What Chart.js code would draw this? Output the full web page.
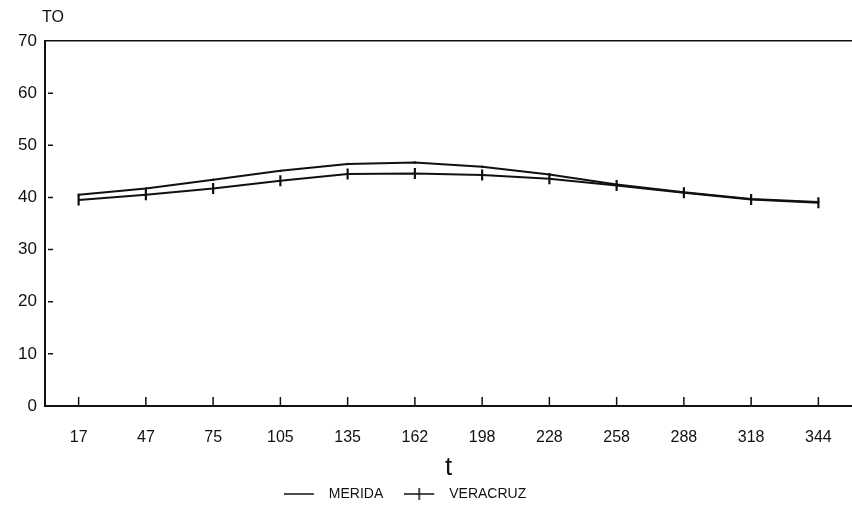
<!DOCTYPE html>
<html>
<head>
<meta charset="utf-8">
<script src="https://cdn.jsdelivr.net/npm/chart.js@4.4.1/dist/chart.umd.min.js"></script>
<style>
  html, body { margin: 0; padding: 0; background: #fff; }
  #wrap { width: 852px; height: 505px; }
</style>
</head>
<body>
<div id="wrap"><canvas id="myChart"></canvas></div>
<script>
// day of the year (x categories)
const days = ['17', '47', '75', '105', '135', '162', '198', '228', '258', '288', '318', '344'];
// TO values
const merida = [40.5, 41.7, 43.4, 45.1, 46.4, 46.7, 45.9, 44.4, 42.5, 41.0, 39.7, 39.1];
const veracruz = [39.5, 40.5, 41.7, 43.2, 44.5, 44.6, 44.3, 43.6, 42.3, 40.9, 39.6, 39.0];
const yTicks = [0, 10, 20, 30, 40, 50, 60, 70];

const ink = '#111';
const font = '"Liberation Sans", Arial, sans-serif';

// small legend samples: plain line and line with a tick
function sample(withTick) {
    const c = document.createElement('canvas');
    c.width = 38; c.height = 14;
    const g = c.getContext('2d');
    g.strokeStyle = ink; g.lineWidth = 1.5;
    g.beginPath();
    g.moveTo(0, 7); g.lineTo(30, 7);
    if (withTick) { g.moveTo(15, 1); g.lineTo(15, 13); }
    g.stroke();
    return c;
}
const samples = [sample(false), sample(true)];
// spacing after each legend text (keeps the legend a bit left of centre, like the original)
const legendGap = ['\u2002\u2002\u2002', '\u2002\u2002\u2002\u2002\u2002\u2002'];

// inward tick marks + the "TO" label
const insideTicks = {
    id: 'insideTicks',
    afterLayout(chart) {
        // nudge the legend down a little
        chart.legend.top += 6;
        chart.legend.bottom += 6;
    },
    afterDraw(chart) {
        const ctx = chart.ctx;
        const a = chart.chartArea;
        const x = chart.scales.x, y = chart.scales.y;
        ctx.save();
        ctx.strokeStyle = ink;
        ctx.lineWidth = 1.5;
        ctx.beginPath();
        yTicks.forEach(v => {
            if (v === 0 || v === 70) return;
            const py = y.getPixelForValue(v);
            ctx.moveTo(a.left + 3, py);
            ctx.lineTo(a.left + 8, py);
        });
        days.forEach((d, i) => {
            const px = x.getPixelForValue(i);
            ctx.moveTo(px, a.bottom);
            ctx.lineTo(px, a.bottom - 9);
        });
        ctx.stroke();
        ctx.fillStyle = ink;
        ctx.font = '16px ' + font;
        ctx.textAlign = 'left';
        ctx.textBaseline = 'bottom';
        ctx.fillText('TO', a.left - 3, a.top - 15);
        ctx.restore();
    }
};

const ctx = document.getElementById('myChart').getContext('2d');
const myChart = new Chart(ctx, {
    type: 'line',
    data: {
        labels: days,
        datasets: [{
            label: 'MERIDA',
            data: merida,
            borderColor: ink,
            backgroundColor: ink,
            borderWidth: 2,
            tension: 0,
            pointRadius: 1.2,
            pointStyle: 'circle',
            pointBorderWidth: 0
        }, {
            label: 'VERACRUZ',
            data: veracruz,
            borderColor: ink,
            backgroundColor: ink,
            borderWidth: 2,
            tension: 0,
            pointStyle: 'line',
            rotation: 90,
            pointRadius: 5.5,
            pointBorderWidth: 2.2
        }]
    },
    options: {
        responsive: true,
        maintainAspectRatio: false,
        animation: false,
        layout: { autoPadding: false, padding: { top: 41, left: 0, right: 0, bottom: 0 } },
        plugins: {
            tooltip: { enabled: false },
            legend: {
                position: 'bottom',
                labels: {
                    usePointStyle: true,
                    pointStyleWidth: 38,
                    color: ink,
                    font: { family: font, size: 14 },
                    padding: 0,
                    generateLabels(chart) {
                        const items = Chart.defaults.plugins.legend.labels.generateLabels(chart);
                        items.forEach((it, i) => {
                            it.pointStyle = samples[i];
                            it.rotation = 0;
                            it.text = it.text + legendGap[i];
                        });
                        return items;
                    }
                }
            }
        },
        scales: {
            x: {
                offset: true,
                grid: { display: true, drawOnChartArea: false, drawTicks: true, tickLength: 20, color: 'transparent' },
                border: { display: true, color: ink, width: 2 },
                ticks: { color: ink, font: { family: font, size: 16 }, padding: 2, maxRotation: 0 },
                title: { display: true, text: 't', color: ink, font: { family: font, size: 26, lineHeight: 1 }, padding: { top: 4, bottom: 0 } },
                afterFit(s) {
                    s.height = 75;
                    s.paddingLeft = 0;
                    s.paddingRight = 0;
                }
            },
            y: {
                min: 0,
                max: 70,
                afterBuildTicks(s) { s.ticks = yTicks.map(v => ({ value: v })); },
                grid: {
                    drawTicks: false,
                    color: c => (c.tick && c.tick.value === 70) ? ink : 'transparent',
                    lineWidth: 1.5
                },
                border: { display: true, color: ink, width: 2 },
                ticks: { color: ink, font: { family: font, size: 17 }, padding: 8 },
                afterFit(s) { s.width = 45; }
            }
        }
    },
    plugins: [insideTicks]
});
</script>
</body>
</html>
